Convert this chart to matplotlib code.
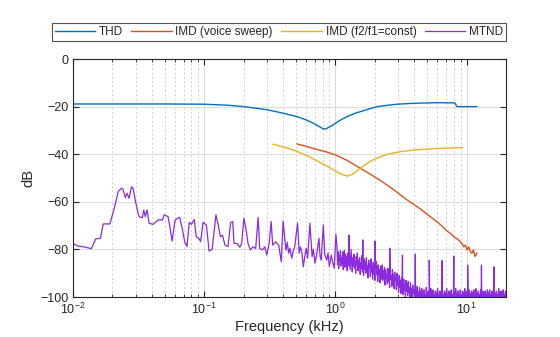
import numpy as np
import matplotlib.pyplot as plt

# THD vs frequency (kHz, dB)
thd_freq = [0.01, 0.03, 0.05, 0.1, 0.15, 0.2, 0.3, 0.38, 0.51, 0.6, 0.68, 0.75, 0.81, 0.85, 0.89,
            0.95, 1.0, 1.1, 1.23, 1.4, 1.64, 2.08, 2.94, 4.0, 6.0, 8.15, 8.45, 12.0]
thd_db = [-18.9, -18.9, -18.9, -19.0, -19.4, -20.0, -21.3, -22.5, -24.2, -25.6, -27.0, -28.3, -29.4,
          -29.3, -28.7, -27.9, -27.0, -25.6, -24.2, -22.9, -21.7, -20.0, -19.0, -18.6, -18.35, -18.45,
          -20.0, -20.0]

# IMD, voice sweep
imd_voice_freq = [0.51, 0.6, 0.7, 0.85, 1.0, 1.23, 1.55, 1.9, 2.2, 2.8, 3.52, 4.45, 5.16, 5.8, 6.5,
                  7.1, 7.6, 8.0, 8.6, 9.2, 9.5, 9.8, 10.1, 10.4, 10.7, 11.0, 11.3, 11.6, 12.0]
imd_voice_db = [-35.7, -36.7, -37.8, -39.0, -40.3, -42.6, -45.9, -48.8, -51.0, -55.0, -59.2, -63.0,
                -65.8, -67.9, -70.2, -72.3, -73.4, -74.7, -75.8, -77.4, -78.9, -78.2, -80.2, -78.9,
                -81.0, -81.6, -80.2, -83.0, -81.6]

# IMD, f2/f1 constant
imd_const_freq = [0.335, 0.4, 0.5, 0.64, 0.8, 1.0, 1.12, 1.23, 1.35, 1.55, 1.8, 2.0, 2.5, 3.1, 4.0,
                  6.0, 9.3]
imd_const_db = [-35.8, -36.9, -38.6, -41.2, -44.0, -47.0, -48.5, -49.2, -48.5, -45.9, -43.4, -42.0,
                -40.0, -39.0, -38.2, -37.6, -37.2]

# MTND spectrum below 1 kHz
mtnd_low_freq = [0.0100, 0.0109, 0.0123, 0.0138, 0.0149, 0.0162, 0.0170, 0.0191, 0.0208, 0.0221,
                 0.0234, 0.0240, 0.0251, 0.0258, 0.0268, 0.0279, 0.0287, 0.0300, 0.0318, 0.0338,
                 0.0346, 0.0356, 0.0367, 0.0380, 0.0408, 0.0446, 0.0480, 0.0495, 0.0530, 0.0550,
                 0.0570, 0.0600, 0.0650, 0.0680, 0.0710, 0.0740, 0.0770, 0.0800, 0.0840, 0.0870,
                 0.0910, 0.0940, 0.0980, 0.1040, 0.1090, 0.1150, 0.1230, 0.1280, 0.1330, 0.1380,
                 0.1440, 0.1520, 0.1590, 0.1650, 0.1690, 0.1780, 0.1870, 0.1930, 0.2010, 0.2100,
                 0.2160, 0.2250, 0.2360, 0.2470, 0.2580, 0.2650, 0.2780, 0.2900, 0.3000, 0.3130,
                 0.3240, 0.3330, 0.3500, 0.3700, 0.3870, 0.4000, 0.4200, 0.4300, 0.4400, 0.4500,
                 0.4650, 0.4780, 0.4900, 0.5150, 0.5300, 0.5420, 0.5550, 0.5700, 0.5900, 0.6000,
                 0.6150, 0.6400, 0.6650, 0.6800, 0.7000, 0.7200, 0.7500, 0.7650, 0.7800, 0.8100,
                 0.8300, 0.8600, 0.8800, 0.9000, 0.9300, 0.9500, 0.9800]
mtnd_low_db = [-77.5, -78.6, -79.0, -79.7, -75.6, -75.3, -69.3, -69.3, -62.0, -55.7,
               -54.3, -54.6, -58.3, -56.4, -58.5, -53.7, -54.3, -60.0, -66.2, -66.7,
               -63.4, -66.2, -63.4, -69.0, -69.5, -67.6, -67.6, -65.5, -66.2, -71.1,
               -76.5, -67.6, -66.5, -71.1, -76.7, -78.8, -68.6, -69.5, -67.4, -74.7,
               -75.3, -76.7, -68.6, -69.7, -80.7, -80.0, -65.5, -69.7, -74.7, -74.0,
               -78.2, -78.8, -68.8, -68.3, -77.5, -77.5, -79.1, -77.5, -66.9, -72.6,
               -77.5, -80.2, -78.9, -79.6, -66.5, -79.6, -80.2, -78.9, -82.4, -77.5,
               -68.3, -78.2, -76.8, -78.2, -85.2, -68.1, -80.3, -77.0, -81.6, -79.5,
               -83.7, -80.5, -78.9, -69.0, -81.6, -79.0, -81.0, -87.3, -81.6, -79.5,
               -83.7, -69.0, -83.0, -80.0, -85.8, -82.4, -75.3, -83.0, -84.5, -69.7,
               -82.0, -84.5, -81.5, -87.3, -82.4, -85.0, -87.9]

# MTND noise floor, 1.03 kHz to 20 kHz on a log-spaced bin grid
mtnd_floor_db = [
    -79.5, -86.5, -81.0, -88.0, -82.5, -85.0, -80.5, -87.0, -83.5, -86.0,
    -81.0, -88.5, -84.0, -80.5, -87.5, -82.0, -86.5, -83.0, -89.0, -81.5,
    -85.5, -87.0, -82.5, -88.5, -84.0, -80.0, -86.0, -89.5, -83.5, -87.0,
    -82.0, -88.0, -85.0, -90.0, -83.0, -86.5, -81.5, -89.0, -84.5, -87.5,
    -83.5, -90.5, -85.5, -88.0, -82.5, -89.5, -86.0, -91.0, -84.0, -88.5,
    -85.0, -90.0, -83.5, -89.0, -87.0, -92.0, -84.5, -88.0, -86.0, -91.5,
    -84.0, -89.5, -87.5, -92.5, -85.5, -90.5, -86.5, -93.0, -88.0, -85.0,
    -90.5, -87.0, -93.5, -86.5, -91.0, -88.5, -94.0, -87.0, -90.0, -92.5,
    -86.5, -93.0, -89.0, -91.5, -87.5, -95.0, -88.5, -92.0, -90.5, -94.5,
    -88.0, -93.5, -90.0, -96.0, -89.0, -92.5, -91.0, -95.5, -88.5, -94.0,
    -90.5, -96.5, -89.5, -93.0, -92.0, -97.0, -90.0, -95.0, -93.5, -98.0,
    -91.0, -96.0, -93.0, -98.5, -92.0, -95.5, -94.0, -99.0, -92.5, -97.0,
    -95.0, -100.0, -93.0, -97.5, -94.5, -99.5, -93.5, -98.0, -96.0, -100.5,
    -94.0, -99.0, -96.5, -101.0, -95.0, -98.5, -97.0, -101.5, -95.5, -100.0,
    -97.0, -101.0, -95.5, -99.5, -98.0, -102.0, -96.0, -100.5, -97.5, -101.0,
    -96.5, -100.5, -98.5, -102.0, -97.0, -100.0, -99.0, -101.5, -96.0, -100.5,
    -98.0, -101.5, -97.5, -100.0, -99.0, -102.0, -96.5, -100.5, -98.5, -101.0,
    -97.0, -100.5, -99.0, -101.5, -97.5, -100.0, -98.0, -102.0, -96.5, -100.5,
    -99.0, -101.0, -97.5, -100.5, -98.5, -101.5, -97.0, -100.0, -99.0, -102.0,
    -97.5, -100.5, -98.0, -101.0, -96.5, -100.0, -99.0, -101.5, -97.5, -100.5,
    -98.5, -101.0, -97.0, -100.5, -99.0, -102.0, -97.5, -100.0, -98.0, -101.5,
    -96.5, -100.5, -98.5, -101.0, -97.5, -100.0, -99.0, -101.5, -97.0, -100.5,
    -99.0, -101.0, -97.5, -100.5, -98.0, -102.0, -96.5, -100.0, -98.5, -101.0,
    -97.5, -100.5, -99.0, -101.5, -97.0, -100.0, -98.5, -101.0, -97.5, -100.5,
    -98.0, -101.5, -97.0, -100.0, -99.0, -101.0, -96.5, -100.5, -98.5, -102.0,
    -97.5, -100.0, -99.0, -101.5, -97.0, -100.5, -98.0, -101.0, -97.5, -100.0,
    -99.0, -101.5, -97.5, -100.5, -98.5, -102.0, -97.0, -100.0, -98.0, -101.0,
    -97.0, -100.5, -99.0, -101.0, -97.5, -100.0, -98.5, -101.5, -97.0, -100.5,
    -98.5, -101.0, -97.5, -100.0, -99.0, -101.5, -96.5, -100.5, -98.0, -101.0,
    -97.5, -100.5, -98.5, -101.0, -97.0, -100.0, -99.0, -101.5, -97.5, -100.0]

# MTND test tones above 1 kHz
tone_freq = [1.01, 1.27, 1.62, 2.01, 2.6, 3.25, 4.07, 5.2, 6.5, 8.0, 10.2, 13.0, 16.2]
tone_db = [-73.7, -74.0, -76.0, -76.5, -79.5, -82.4, -82.0, -84.5, -84.7, -82.8, -86.6, -86.6, -87.3]

floor_freq = np.geomspace(1.03, 20, len(mtnd_floor_db))
mtnd_freq = np.concatenate([mtnd_low_freq, floor_freq, tone_freq])
mtnd_db = np.concatenate([mtnd_low_db, mtnd_floor_db, tone_db])
order = np.argsort(mtnd_freq)
mtnd_freq = mtnd_freq[order]
mtnd_db = mtnd_db[order]

plt.rcParams['font.family'] = ['Liberation Sans', 'DejaVu Sans']
axis_color = "#262626"

fig = plt.figure(figsize=(5.6, 3.37), dpi=100)
ax = fig.add_axes([73 / 560, 40 / 337, 433 / 560, 238 / 337])

ax.plot(thd_freq, thd_db, color="#0072BD", lw=1.0, label="THD")
ax.plot(imd_voice_freq, imd_voice_db, color="#D95319", lw=1.0, label="IMD (voice sweep)")
ax.plot(imd_const_freq, imd_const_db, color="#EDB120", lw=1.0, label="IMD (f2/f1=const)")
ax.plot(mtnd_freq, mtnd_db, color="#8A2BE2", lw=0.9, label="MTND")

ax.set_xscale("log")
ax.set_xlim(0.01, 20)
ax.set_ylim(-100, 0)
ax.set_yticks([-100, -80, -60, -40, -20, 0])

ax.grid(which="major", color="#dcdcdc", lw=0.8, ls="-")
ax.grid(which="minor", axis="x", color="#cfcfcf", lw=0.7, ls=(0, (2, 2.5)))
ax.set_axisbelow(True)

ax.tick_params(which="both", direction="in", top=True, right=True,
               colors=axis_color, labelsize=9, labelcolor=axis_color)
ax.tick_params(which="major", length=4, width=0.8)
ax.tick_params(which="minor", length=2.5, width=0.6)
for spine in ax.spines.values():
    spine.set_color(axis_color)
    spine.set_linewidth(0.8)

ax.set_xlabel("Frequency (kHz)", fontsize=10.5, color=axis_color, labelpad=2)
ax.set_ylabel("dB", fontsize=10.5, color=axis_color, labelpad=3)

fig.legend(loc="upper right", bbox_to_anchor=(506 / 560, 1 - 23 / 337), ncol=4,
           fontsize=8.5, frameon=True, fancybox=False, edgecolor=axis_color,
           handlelength=3.45, handletextpad=0.3, columnspacing=0.7,
           borderpad=0.25, borderaxespad=0)
leg = fig.legends[0]
leg.get_frame().set_linewidth(0.8)
for text in leg.get_texts():
    text.set_color(axis_color)

fig.savefig("out.png", dpi=100)
